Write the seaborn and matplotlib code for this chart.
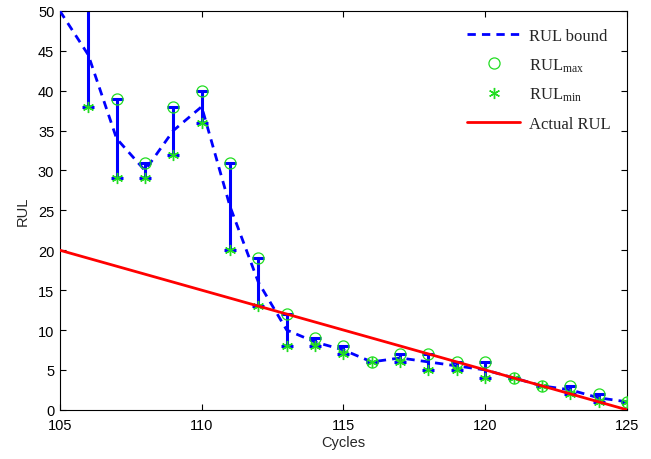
import matplotlib
matplotlib.use('Agg')
import matplotlib.pyplot as plt
import numpy as np
import seaborn as sns
import pandas as pd

# data
cycles = [105, 106, 107, 108, 109, 110, 111, 112, 113, 114, 115,
          116, 117, 118, 119, 120, 121, 122, 123, 124, 125]
rul_bound = [50, 44.5, 34, 30, 35, 38, 25.5, 16, 10, 8.5, 7.5,
             6, 6.5, 6, 5.5, 5, 4, 3, 2.5, 1.5, 1]
rul_max = [np.nan, 51, 39, 31, 38, 40, 31, 19, 12, 9, 8,
           6, 7, 7, 6, 6, 4, 3, 3, 2, 1]
rul_min = [np.nan, 38, 29, 29, 32, 36, 20, 13, 8, 8, 7,
           6, 6, 5, 5, 4, 4, 3, 2, 1, 1]
actual_rul = [20, 19, 18, 17, 16, 15, 14, 13, 12, 11, 10,
              9, 8, 7, 6, 5, 4, 3, 2, 1, 0]

df = pd.DataFrame({'cycle': cycles, 'bound': rul_bound, 'max': rul_max,
                   'min': rul_min, 'actual': actual_rul})

sns.set_style('ticks')
plt.rcParams['font.family'] = ['Liberation Sans', 'DejaVu Sans']
plt.rcParams['mathtext.fontset'] = 'custom'
plt.rcParams['mathtext.rm'] = 'Liberation Serif'
plt.rcParams['mathtext.it'] = 'Liberation Serif:italic'

fig = plt.figure(figsize=(6.51, 4.60), dpi=100)
ax = fig.add_axes([0.092, 0.107, 0.871, 0.867])

# vertical bars between min and max
bars = df.dropna()
ax.errorbar(bars['cycle'], bars['bound'],
            yerr=[bars['bound'] - bars['min'], bars['max'] - bars['bound']],
            fmt='none', ecolor='blue', elinewidth=2.2, capsize=4, capthick=2.2,
            zorder=2)

sns.lineplot(data=df, x='cycle', y='bound', ax=ax, color='blue',
             linewidth=2, label='RUL bound', zorder=3)
ax.lines[-1].set_linestyle((0, (3, 2.2)))
ax.plot(df['cycle'], df['max'], linestyle='none', marker='o', markersize=8,
        markerfacecolor='none', markeredgecolor='#22dd22', markeredgewidth=0.9,
        label='RUL$_{\\mathrm{max}}$', zorder=4)
ax.plot(df['cycle'], df['min'], linestyle='none', marker=(6, 2, 0), markersize=8,
        color='#22dd22', markeredgewidth=1.0,
        label='RUL$_{\\mathrm{min}}$', zorder=4)
sns.lineplot(data=df, x='cycle', y='actual', ax=ax, color='red',
             linewidth=2, label='Actual RUL', zorder=5)

ax.set_xlim(105, 125)
ax.set_ylim(0, 50)
ax.set_xticks([105, 110, 115, 120, 125])
ax.set_yticks(range(0, 51, 5))
ax.set_xlabel('Cycles', fontsize=10.5, labelpad=2)
ax.set_ylabel('RUL', fontsize=10.5, labelpad=6)
ax.tick_params(direction='in', length=4.5, width=0.8, labelsize=10.5,
               top=True, right=True, colors='black')
ax.tick_params(axis='x', pad=6)
ax.tick_params(axis='y', pad=4)
for s in ax.spines.values():
    s.set_linewidth(0.8)
    s.set_color('black')

leg = ax.legend(loc='upper right', frameon=False,
                prop={'family': 'Liberation Serif', 'size': 12},
                handlelength=3.2, handletextpad=0.5, labelspacing=0.75,
                borderaxespad=0.6)

fig.savefig('out.png', dpi=100)
